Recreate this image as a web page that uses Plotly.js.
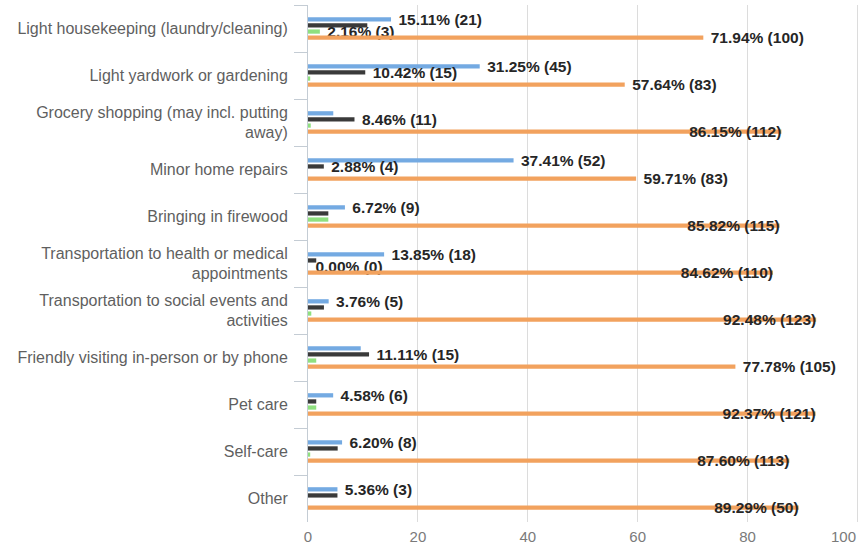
<!DOCTYPE html>
<html>
<head>
<meta charset="utf-8">
<script src="https://cdn.plot.ly/plotly-3.0.1.min.js"></script>
<style>html,body{margin:0;padding:0;background:#fff;}#chart{width:867px;height:552px;}</style>
</head>
<body>
<div id="chart"></div>
<script>
const categories = [
  'Light housekeeping (laundry/cleaning)',
  'Light yardwork or gardening',
  'Grocery shopping (may incl. putting<br>away)',
  'Minor home repairs',
  'Bringing in firewood',
  'Transportation to health or medical<br>appointments',
  'Transportation to social events and<br>activities',
  'Friendly visiting in-person or by phone',
  'Pet care',
  'Self-care',
  'Other'
];
const blueValues   = [15.11, 31.25, 4.6, 37.41, 6.72, 13.85, 3.76, 9.6, 4.58, 6.20, 5.36];
const blackValues  = [10.79, 10.42, 8.46, 2.88, 3.7, 1.5, 2.9, 11.11, 1.5, 5.4, 5.36];
const greenValues  = [2.16, 0.4, 0.5, 0, 3.7, 0, 0.6, 1.5, 1.5, 0.4, 0];
const orangeValues = [71.94, 57.64, 86.15, 59.71, 85.82, 84.62, 92.48, 77.78, 92.37, 87.60, 89.29];

const blueLabels   = ['15.11% (21)', '31.25% (45)', '', '37.41% (52)', '6.72% (9)', '13.85% (18)', '3.76% (5)', '', '4.58% (6)', '6.20% (8)', '5.36% (3)'];
const blackLabels  = ['', '10.42% (15)', '8.46% (11)', '2.88% (4)', '', '', '', '11.11% (15)', '', '', ''];
const greenLabels  = ['2.16% (3)', '', '', '', '', '0.00% (0)', '', '', '', '', ''];
const orangeLabels = ['71.94% (100)', '57.64% (83)', '86.15% (112)', '59.71% (83)', '85.82% (115)', '84.62% (110)', '92.48% (123)', '77.78% (105)', '92.37% (121)', '87.60% (113)', '89.29% (50)'];

const xTickValues = [0, 20, 40, 60, 80, 100];
const xTickLabels = ['0', '20', '40', '60', '80', '100'];

const FONT = 'Liberation Sans, Arial, sans-serif';
const labelFont = {family: FONT, size: 15.5, color: '#262626', weight: 'bold'};

function series(vals, labels, color, positions) {
  const pos = positions || vals.map(() => 'outside');
  return {
    type: 'bar', orientation: 'h',
    x: vals, y: categories,
    marker: {color: color, line: {width: 0}},
    text: labels,
    texttemplate: pos.map(p => p === 'outside' ? '\u00a0\u2009%{text}' : '%{text}'),
    textposition: pos,
    insidetextanchor: 'end',
    textangle: 0,
    constraintext: 'none',
    cliponaxis: false,
    textfont: labelFont,
    insidetextfont: labelFont,
    outsidetextfont: labelFont,
    hoverinfo: 'x+y',
    showlegend: false
  };
}

const orangePos = orangeValues.map(v => v > 80 ? 'inside' : 'outside');

const data = [
  series(blueValues, blueLabels, '#74aae2'),
  series(blackValues, blackLabels, '#3a3a3a'),
  series(greenValues, greenLabels, '#8fe07f'),
  series(orangeValues, orangeLabels, '#f2a25e', orangePos)
];

const lastTick = xTickValues.length - 1;
const layout = {
  width: 867, height: 552,
  margin: {l: 308, r: 3.5, t: 5, b: 30, pad: 0},
  paper_bgcolor: '#ffffff', plot_bgcolor: '#ffffff',
  barmode: 'group',
  bargap: 0.48,
  bargroupgap: 0.3,
  font: {family: FONT},
  xaxis: {
    range: [0, 101],
    tickmode: 'array',
    tickvals: xTickValues,
    ticktext: xTickLabels.map((t, i) => i === lastTick ? '' : t),
    showgrid: true, gridcolor: '#dcdcdc', gridwidth: 1,
    zeroline: false, showline: false, ticks: '',
    tickfont: {family: FONT, size: 15, color: '#7a7a7a'},
    ticklabelstandoff: 4,
    fixedrange: true
  },
  yaxis: {
    type: 'category', autorange: 'reversed',
    showline: true, linecolor: '#c4ccd4', linewidth: 1,
    ticks: 'outside', tickson: 'boundaries', ticklen: 13, tickcolor: '#c4ccd4',
    showgrid: false, zeroline: false,
    tickfont: {family: FONT, size: 16, color: '#5f5f5f'},
    ticklabelstandoff: 16,
    fixedrange: true
  },
  annotations: [{
    xref: 'x', yref: 'paper',
    x: xTickValues[lastTick], y: 0,
    xanchor: 'right', yanchor: 'top',
    yshift: -4,
    text: xTickLabels[lastTick],
    showarrow: false,
    font: {family: FONT, size: 15, color: '#7a7a7a'}
  }]
};

Plotly.newPlot('chart', data, layout, {displayModeBar: false, staticPlot: true});
</script>
</body>
</html>
